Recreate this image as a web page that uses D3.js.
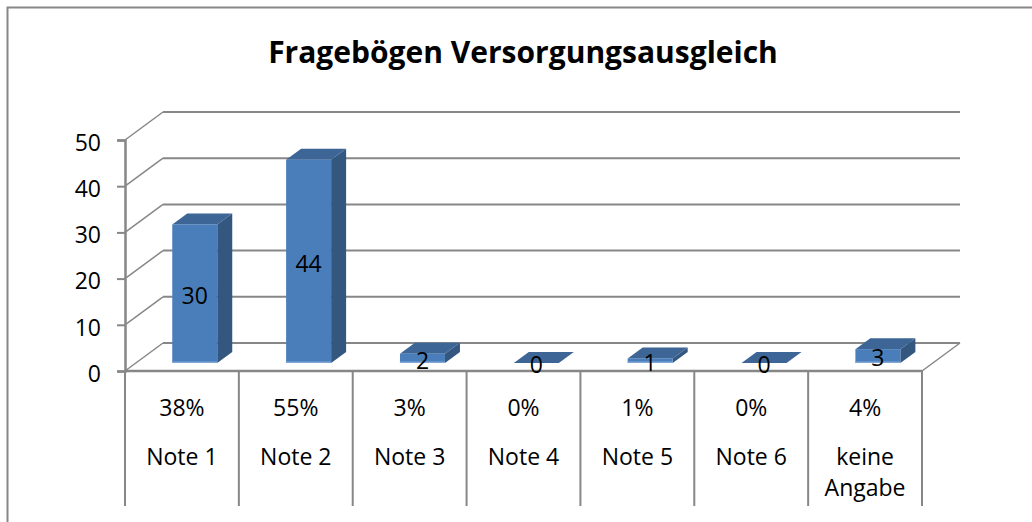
<!DOCTYPE html>
<html>
<head>
<meta charset="utf-8">
<script src="https://cdn.jsdelivr.net/npm/d3@7"></script>
<style>
  body { margin: 0; background: #fff; }
  svg { display: block; font-family: "Open Sans", "Liberation Sans", sans-serif; }
</style>
</head>
<body>
<svg id="chart" width="1032" height="522"></svg>
<script>
"use strict";

var categories = ["Note 1", "Note 2", "Note 3", "Note 4", "Note 5", "Note 6", "keine Angabe"];
var counts = [30, 44, 2, 0, 1, 0, 3];
var percents = ["38%", "55%", "3%", "0%", "1%", "0%", "4%"];
var yTicks = [0, 10, 20, 30, 40, 50];

var Draw = (function() {
  var svg = d3.select("#chart");
  var grid = "#878787";
  var fs = 23;

  // 3d offsets: back wall depth and bar depth
  var depth = {dx: 38, dy: -28};
  var barDepth = {dx: 15, dy: -11};
  var barShift = {dx: 11, dy: -8};

  var x = d3.scaleBand().domain(categories).range([125, 922]).padding(0);
  var y = d3.scaleLinear().domain([0, 50]).range([371, 140]);

  // outer frame (right/bottom edges run off the picture)
  svg.append("rect")
      .attr("x", 7.5).attr("y", 7.5)
      .attr("width", 1060).attr("height", 560)
      .attr("fill", "none")
      .attr("stroke", grid)
      .attr("stroke-width", 2);

  svg.append("text")
      .attr("x", 523).attr("y", 63)
      .attr("text-anchor", "middle")
      .attr("font-size", 30)
      .attr("font-weight", "bold")
      .text("Fragebögen Versorgungsausgleich");

  // back wall gridlines + side wall diagonals
  var g = svg.append("g")
      .attr("stroke", grid)
      .attr("fill", "none");

  g.selectAll(".gl")
    .data(yTicks)
    .join("line")
      .attr("x1", 125 + depth.dx).attr("x2", 922 + depth.dx)
      .attr("y1", d => y(d) + depth.dy).attr("y2", d => y(d) + depth.dy)
      .attr("stroke-width", 2);

  g.selectAll(".diag")
    .data(yTicks)
    .join("line")
      .attr("x1", 125).attr("x2", 125 + depth.dx)
      .attr("y1", d => y(d)).attr("y2", d => y(d) + depth.dy)
      .attr("stroke-width", 1.5);

  // floor right edge
  g.append("line")
      .attr("x1", 922).attr("y1", y(0))
      .attr("x2", 922 + depth.dx).attr("y2", y(0) + depth.dy)
      .attr("stroke-width", 1.5);

  // value axis
  var yAxis = d3.axisLeft(y).tickValues(yTicks).tickSize(8).tickPadding(16);
  var ya = svg.append("g")
      .attr("transform", "translate(125,0)")
      .call(yAxis);
  ya.select(".domain").attr("stroke", grid).attr("stroke-width", 2.5);
  ya.selectAll(".tick line").attr("stroke", grid).attr("stroke-width", 2);
  ya.selectAll(".tick text")
      .attr("font-size", fs)
      .attr("font-family", "'Open Sans', sans-serif")
      .attr("fill", "#000")
      .attr("dy", "0.45em");

  // category axis: floor front line and separators
  svg.append("line")
      .attr("x1", 125).attr("x2", 922)
      .attr("y1", y(0)).attr("y2", y(0))
      .attr("stroke", grid).attr("stroke-width", 2.5);

  var bounds = categories.map(c => x(c)).concat([x.range()[1]]);
  svg.selectAll(".sep")
    .data(bounds)
    .join("line")
      .attr("x1", d => d).attr("x2", d => d)
      .attr("y1", y(0)).attr("y2", 506)
      .attr("stroke", grid).attr("stroke-width", 2);

  var lab = svg.append("g")
      .attr("font-size", fs)
      .attr("text-anchor", "middle");

  lab.selectAll(".pct")
    .data(percents)
    .join("text")
      .attr("x", (d, i) => x(categories[i]) + x.bandwidth() / 2)
      .attr("y", 416)
      .text(d => d);

  lab.selectAll(".cat")
    .data(categories)
    .join("text")
      .attr("x", d => x(d) + x.bandwidth() / 2)
      .selectAll("tspan")
      .data(d => d.startsWith("keine") ? d.split(" ") : [d])
      .join("tspan")
        .attr("x", function() { return this.parentNode.getAttribute("x"); })
        .attr("y", (d, i) => 465 + i * 31)
        .text(d => d);

  // bars
  var bw = 45;
  var bars = svg.append("g")
    .selectAll("g")
    .data(counts)
    .join("g");

  function fx(i) { return x(categories[i]) + x.bandwidth() * 0.415; }
  function base() { return y(0) + barShift.dy; }
  function top(v) { return y(v) + barShift.dy; }

  // right side
  bars.append("path")
      .attr("fill", "#34577f")
      .attr("d", (d, i) => {
        var x0 = fx(i) + bw, y0 = top(d), y1 = base();
        return `M${x0},${y0}L${x0 + barDepth.dx},${y0 + barDepth.dy}L${x0 + barDepth.dx},${y1 + barDepth.dy}L${x0},${y1}Z`;
      });
  // top
  bars.append("path")
      .attr("fill", "#3d6596")
      .attr("d", (d, i) => {
        var x0 = fx(i), y0 = top(d);
        return `M${x0},${y0}L${x0 + barDepth.dx},${y0 + barDepth.dy}L${x0 + bw + barDepth.dx},${y0 + barDepth.dy}L${x0 + bw},${y0}Z`;
      });
  // front
  bars.append("rect")
      .attr("fill", "#4a7ebb")
      .attr("x", (d, i) => fx(i))
      .attr("y", d => top(d))
      .attr("width", bw)
      .attr("height", d => base() - top(d));
  bars.append("rect")
      .attr("fill", "#7ea6d6")
      .attr("x", (d, i) => fx(i))
      .attr("y", base() - 1.5)
      .attr("width", bw)
      .attr("height", d => d > 0 ? 1.5 : 0);

  bars.append("text")
      .attr("x", (d, i) => fx(i) + bw / 2)
      .attr("y", d => (top(d) + base()) / 2 + 2)
      .attr("dy", "0.36em")
      .attr("text-anchor", "middle")
      .attr("font-size", fs)
      .text(d => d);
});

Draw();
</script>
</body>
</html>
